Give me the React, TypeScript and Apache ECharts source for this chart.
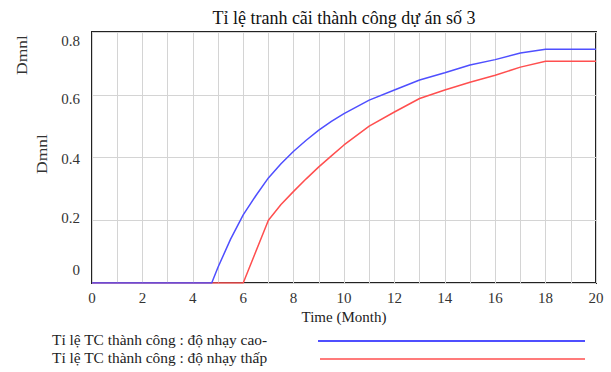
import React, { useEffect, useRef } from "react";
import * as echarts from "echarts";

const title = "Tỉ lệ tranh cãi thành công dự án số 3";
const xName = "Time (Month)";
const yName = "Dmnl";
const seriesNames = ["Tỉ lệ TC thành công : độ nhạy cao-", "Tỉ lệ TC thành công : độ nhạy thấp"];
const seriesColors = ["#4f4fff", "#ff4f4f"];

const timeHigh = [0, 1, 2, 3, 4, 4.75, 5, 5.5, 6, 6.5, 7, 7.5, 8, 8.5, 9, 9.5, 10, 11, 12, 13, 14, 15, 16, 17, 18, 19, 20];
const valuesHigh = [0, 0, 0, 0, 0, 0, 0.05, 0.14, 0.217, 0.278, 0.335, 0.38, 0.42, 0.455, 0.487, 0.515, 0.54, 0.583, 0.615, 0.647, 0.67, 0.695, 0.712, 0.733, 0.745, 0.745, 0.745];

const timeLow = [0, 1, 2, 3, 4, 5, 6, 7, 7.5, 8, 8.5, 9, 9.5, 10, 11, 12, 13, 14, 15, 16, 17, 18, 19, 20];
const valuesLow = [0, 0, 0, 0, 0, 0, 0, 0.2, 0.25, 0.292, 0.332, 0.37, 0.405, 0.44, 0.5, 0.545, 0.588, 0.615, 0.64, 0.662, 0.688, 0.707, 0.707, 0.707];

const yTicks = [0, 0.2, 0.4, 0.6, 0.8];
const yTickStyles = ["t0", "t2", "t4", "t6", "t8"];

const FONT = "Liberation Serif";

export default function App() {
  const ref = useRef<HTMLDivElement>(null);
  useEffect(() => {
    if (!ref.current) return;
    const chart = echarts.init(ref.current, null, { renderer: "svg" });
    const pair = (xs: number[], ys: number[]) => xs.map((x, i) => [x, ys[i]]);
    const lab = { fontFamily: FONT, fontSize: 15, color: "#333" };
    chart.setOption({
      animation: false,
      backgroundColor: "#ffffff",
      textStyle: { fontFamily: FONT },
      title: {
        text: title,
        left: 339,
        textAlign: "center",
        top: 4,
        textStyle: { fontFamily: FONT, fontSize: 18, fontWeight: "normal", color: "#111" },
      },
      grid: {
        left: 92,
        right: 15,
        top: 32,
        bottom: 89,
        show: true,
        borderColor: "#222",
        borderWidth: 2,
      },
      xAxis: {
        type: "value",
        min: 0,
        max: 20,
        interval: 1,
        name: xName,
        nameLocation: "middle",
        nameGap: 20,
        nameTextStyle: { fontFamily: FONT, fontSize: 15, color: "#222" },
        axisLine: { show: false },
        axisTick: { show: false },
        axisLabel: {
          ...lab,
          margin: 7,
          formatter: (v: number) => (v % 2 === 0 ? String(v) : ""),
        },
        splitLine: { show: true, lineStyle: { color: "#d4d4d4", width: 1 } },
      },
      yAxis: {
        type: "value",
        min: 0,
        max: 0.8,
        interval: 0.2,
        axisLine: { show: false },
        axisTick: { show: false },
        axisLabel: {
          ...lab,
          margin: 12,
          formatter: (v: number) => {
            const i = yTicks.findIndex((k) => Math.abs(k - v) < 1e-9);
            if (i < 0) return "";
            return "{" + yTickStyles[i] + "|" + String(Number(yTicks[i].toFixed(1))) + "}";
          },
          rich: {
            t8: { ...lab, padding: [18, 0, 0, 0] },
            t6: { ...lab, padding: [8, 0, 0, 0] },
            t4: { ...lab, padding: [2, 0, 0, 0] },
            t2: { ...lab, padding: [0, 0, 4, 0] },
            t0: { ...lab, padding: [0, 0, 26, 0] },
          },
        },
        splitLine: { show: true, lineStyle: { color: "#d4d4d4", width: 1 } },
      },
      series: [
        {
          name: seriesNames[0],
          type: "line",
          data: pair(timeHigh, valuesHigh),
          showSymbol: false,
          lineStyle: { color: seriesColors[0], width: 1.5 },
          itemStyle: { color: seriesColors[0] },
          z: 3,
        },
        {
          name: seriesNames[1],
          type: "line",
          data: pair(timeLow, valuesLow),
          showSymbol: false,
          lineStyle: { color: seriesColors[1], width: 1.5 },
          itemStyle: { color: seriesColors[1] },
          z: 2,
        },
      ],
      graphic: [
        {
          type: "text",
          x: 22,
          y: 55,
          rotation: Math.PI / 2,
          scaleX: 1.25,
          style: { text: yName, fontFamily: FONT, fontSize: 14, fill: "#333", align: "center", verticalAlign: "middle" },
        },
        {
          type: "text",
          x: 42,
          y: 154,
          rotation: Math.PI / 2,
          scaleX: 1.25,
          style: { text: yName, fontFamily: FONT, fontSize: 14, fill: "#333", align: "center", verticalAlign: "middle" },
        },
        {
          type: "text",
          x: 52,
          y: 340,
          scaleX: 1.1,
          style: { text: seriesNames[0], fontFamily: FONT, fontSize: 14, fill: "#222", verticalAlign: "middle" },
        },
        {
          type: "text",
          x: 52,
          y: 358,
          scaleX: 1.1,
          style: { text: seriesNames[1], fontFamily: FONT, fontSize: 14, fill: "#222", verticalAlign: "middle" },
        },
        {
          type: "line",
          shape: { x1: 318, y1: 341, x2: 585, y2: 341 },
          style: { stroke: seriesColors[0], lineWidth: 2 },
        },
        {
          type: "line",
          shape: { x1: 320, y1: 359, x2: 585, y2: 359 },
          style: { stroke: seriesColors[1], lineWidth: 1.5 },
        },
      ],
    });
    return () => chart.dispose();
  }, []);
  return <div ref={ref} style={{ position: "absolute", left: 0, top: 0, width: 611, height: 372 }} />;
}
